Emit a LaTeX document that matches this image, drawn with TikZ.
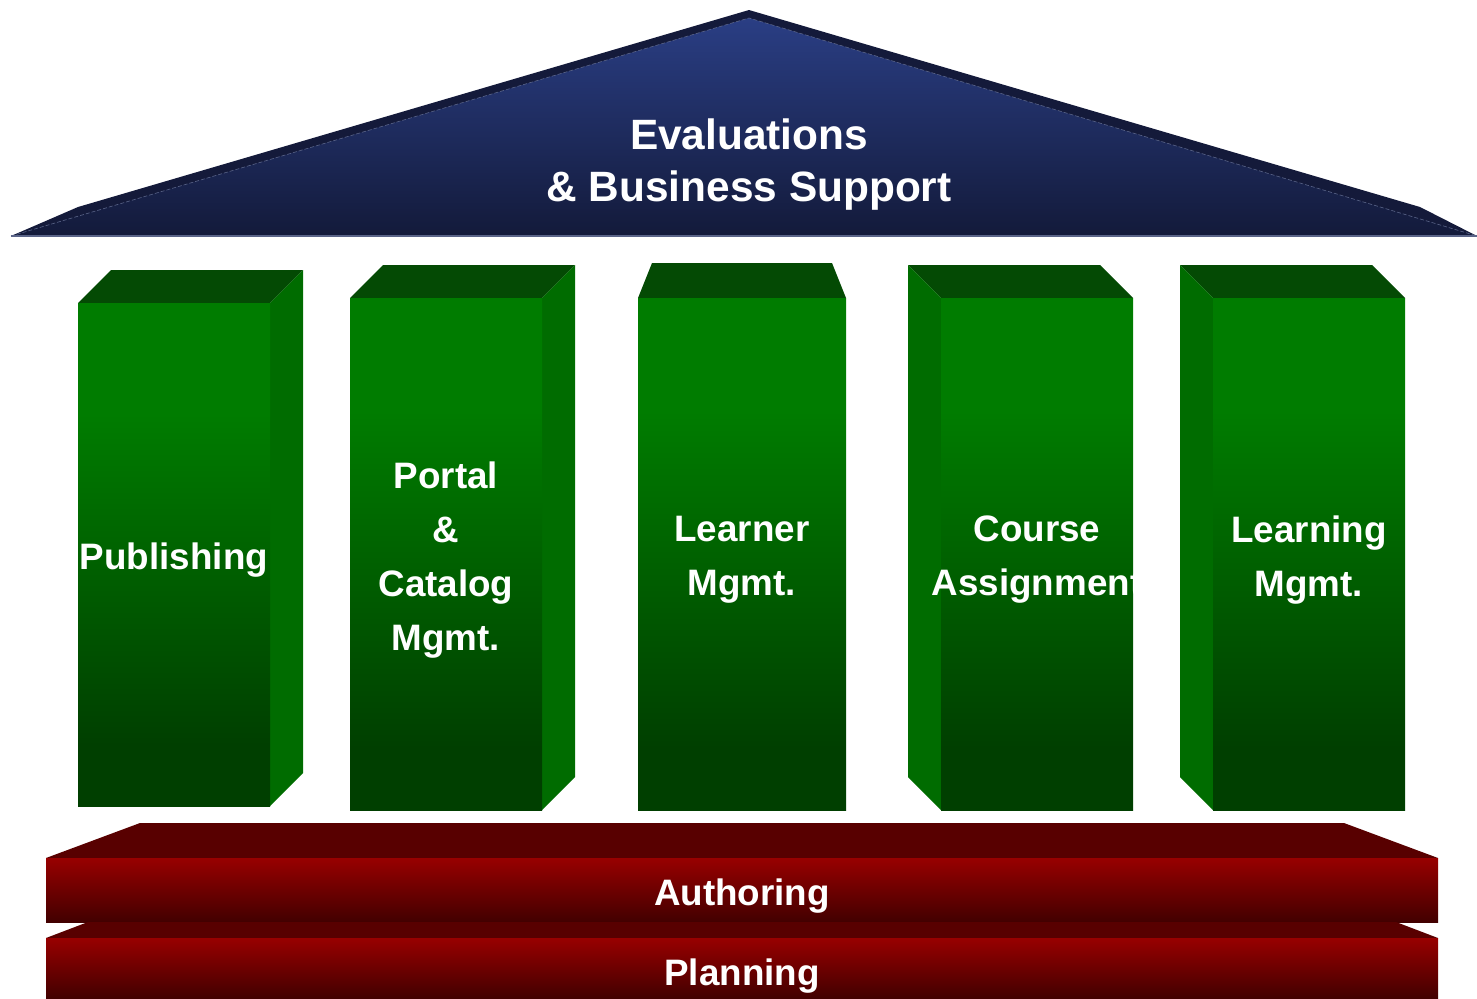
\documentclass[tikz,border=0pt]{standalone}
\usepackage{fontspec}
\setmainfont{Liberation Sans}

\definecolor{roofdark}{HTML}{141A3A}
\definecolor{rooftop}{HTML}{2A3E84}
\definecolor{roofbot}{HTML}{131A3A}
\definecolor{roofline}{HTML}{5A6488}
\definecolor{pillartop}{HTML}{044A04}
\definecolor{pillarside}{HTML}{006C00}
\definecolor{pillarhi}{HTML}{007C00}
\definecolor{pillarlo}{HTML}{003F00}
\definecolor{slabtop}{HTML}{580000}
\definecolor{slabhi}{HTML}{980000}
\definecolor{slablo}{HTML}{420000}

\pgfdeclareverticalshading{pillarfront}{100bp}{color(0bp)=(pillarlo); color(31bp)=(pillarlo); color(64bp)=(pillarhi); color(100bp)=(pillarhi)}

\tikzset{
  roofback/.style={fill=roofdark},
  roofface/.style={top color=rooftop, bottom color=roofbot},
  topface/.style={fill=pillartop},
  sideface/.style={fill=pillarside},
  frontface/.style={shading=pillarfront},
  slabtopface/.style={fill=slabtop},
  slabface/.style={top color=slabhi, bottom color=slablo},
  roofsign/.style={text=white, font=\fontsize{21.2}{26}\selectfont\bfseries, align=center},
  pillarsign/.style={text=white, font=\fontsize{18.4}{27}\selectfont\bfseries, align=center},
}

\begin{document}
\begin{tikzpicture}[x={(0.5pt,0)}, y={(0,-0.5pt)}]
\useasboundingbox (0,0) rectangle (1477,998);

% roof
\fill[roofback] (11,236) -- (78,207) -- (749,10) -- (1420,207) -- (1477,236) -- cycle;
\shade[roofface] (11,236) -- (749,18) -- (1477,236) -- cycle;
\draw[roofline, line width=0.3pt, dashed, dash pattern=on 2pt off 1pt] (11,236) -- (749,18) -- (1477,236);
\draw[roofline, line width=0.8pt] (11,236) -- (1477,236);
\node[roofsign] (roof) at (749,165) {Evaluations\\\& Business Support};

% pillar 1
\fill[topface] (78,303) -- (111,270) -- (303,270) -- (270,303) -- cycle;
\fill[sideface] (270,303) -- (303,270) -- (303,773) -- (270,806) -- cycle;
\shade[frontface] (78,303) rectangle (270,806);
\node[pillarsign] (publishing) at (174,560) {Publishing};

% pillar 2
\fill[topface] (350,298) -- (383,265) -- (575,265) -- (542,298) -- cycle;
\fill[sideface] (542,298) -- (575,265) -- (575,777) -- (542,810) -- cycle;
\shade[frontface] (350,298) rectangle (542,810);
\node[pillarsign] (portal) at (446,560) {Portal\\\&\\Catalog\\Mgmt.};

% pillar 3
\fill[topface] (638,298) -- (652,263) -- (832,263) -- (846,298) -- cycle;
\shade[frontface] (638,298) rectangle (846,810);
\node[pillarsign] (learner) at (742,560) {Learner\\Mgmt.};

% pillar 4
\fill[topface] (908,265) -- (1100,265) -- (1133,298) -- (941,298) -- cycle;
\fill[sideface] (908,265) -- (941,298) -- (941,810) -- (908,777) -- cycle;
\shade[frontface] (941,298) rectangle (1133,810);
\node[pillarsign] (course) at (1037,560) {Course\\Assignment};

% pillar 5
\fill[topface] (1180,265) -- (1372,265) -- (1405,298) -- (1213,298) -- cycle;
\fill[sideface] (1180,265) -- (1213,298) -- (1213,810) -- (1180,777) -- cycle;
\shade[frontface] (1213,298) rectangle (1405,810);
\node[pillarsign] (learning) at (1309,560) {Learning\\Mgmt.};

% base
\fill[slabtopface] (46,858) -- (140,823) -- (1344,823) -- (1438,858) -- cycle;
\shade[slabface] (46,858) rectangle (1438,922);
\node[pillarsign] (authoring) at (742,896) {Authoring};

\fill[slabtopface] (46,938) -- (88,922) -- (1396,922) -- (1438,938) -- cycle;
\shade[slabface] (46,938) rectangle (1438,998);
\node[pillarsign] (planning) at (742,976) {Planning};

\end{tikzpicture}
\end{document}
